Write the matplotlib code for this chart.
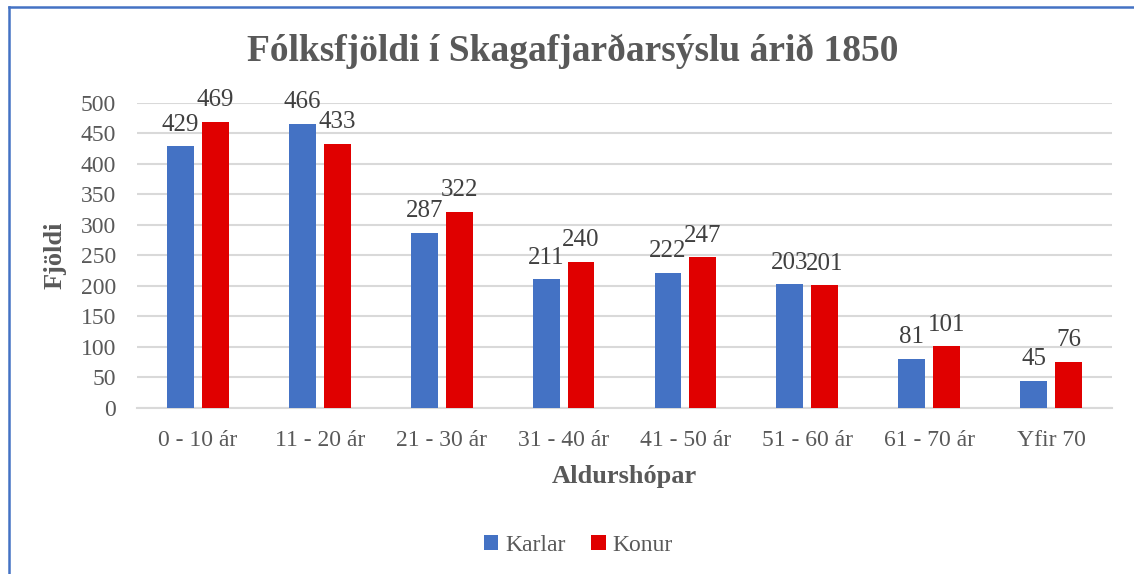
import matplotlib.pyplot as plt
import numpy as np
from matplotlib.lines import Line2D

# Data
categories = ["0 - 10 ár", "11 - 20 ár", "21 - 30 ár", "31 - 40 ár",
              "41 - 50 ár", "51 - 60 ár", "61 - 70 ár", "Yfir 70"]
karlar = [429, 466, 287, 211, 222, 203, 81, 45]
konur = [469, 433, 322, 240, 247, 201, 101, 76]

blue = "#4472C4"
red = "#E00000"
grey = "#595959"

plt.rcParams['font.family'] = ['Liberation Serif', 'DejaVu Serif']

fig = plt.figure(figsize=(11.34, 5.74), dpi=100)
ax = fig.add_axes([0.1208, 0.2892, 0.8598, 0.5314])

x = np.arange(len(categories))
w = 0.22
off = 0.143
b1 = ax.bar(x - off, karlar, w, color=blue, label="Karlar", zorder=3)
b2 = ax.bar(x + off, konur, w, color=red, label="Konur", zorder=3)

for bars in (b1, b2):
    for r in bars:
        ax.annotate(f"{int(r.get_height())}",
                    (r.get_x() + r.get_width() / 2, r.get_height()),
                    xytext=(0, 7.5), textcoords="offset points",
                    ha="center", va="bottom", fontsize=18, color="#404040")

ax.set_xlim(-0.5, len(categories) - 0.5)
ax.set_ylim(0, 500)
ax.set_yticks(range(0, 501, 50))
ax.set_xticks(x)
ax.set_xticklabels(categories)
ax.yaxis.grid(True, color="#D9D9D9", linewidth=1.5, zorder=0)
for s in ("top", "right", "left"):
    ax.spines[s].set_visible(False)
ax.spines["bottom"].set_color("#D9D9D9")
ax.spines["bottom"].set_linewidth(1.5)
ax.tick_params(axis="both", length=0, labelsize=17, colors=grey)
ax.tick_params(axis="y", pad=15)
ax.tick_params(axis="x", pad=16)

ax.set_ylabel("Fjöldi", fontsize=19, fontweight="bold", color=grey, labelpad=10)
ax.set_xlabel("Aldurshópar", fontsize=19, fontweight="bold", color=grey, labelpad=10)

fig.text(0.505, 0.911, "Fólksfjöldi í Skagafjarðarsýslu árið 1850",
         ha="center", va="center", fontsize=27, fontweight="bold", color=grey)

leg = fig.legend(handles=[b1, b2], loc="center", bbox_to_anchor=(0.51, 0.05),
                 ncol=2, frameon=False, fontsize=17, handlelength=0.6,
                 handleheight=0.6, handletextpad=0.3, columnspacing=1.1)
for t in leg.get_texts():
    t.set_color(grey)

# chart frame (left and top edges visible)
fig.add_artist(Line2D([0.0075, 0.0075], [0, 0.9885], transform=fig.transFigure,
                      color=blue, linewidth=1.8))
fig.add_artist(Line2D([0.0075, 1.0], [0.9885, 0.9885], transform=fig.transFigure,
                      color=blue, linewidth=1.8))

fig.savefig("out.png", dpi=100, facecolor="white")
